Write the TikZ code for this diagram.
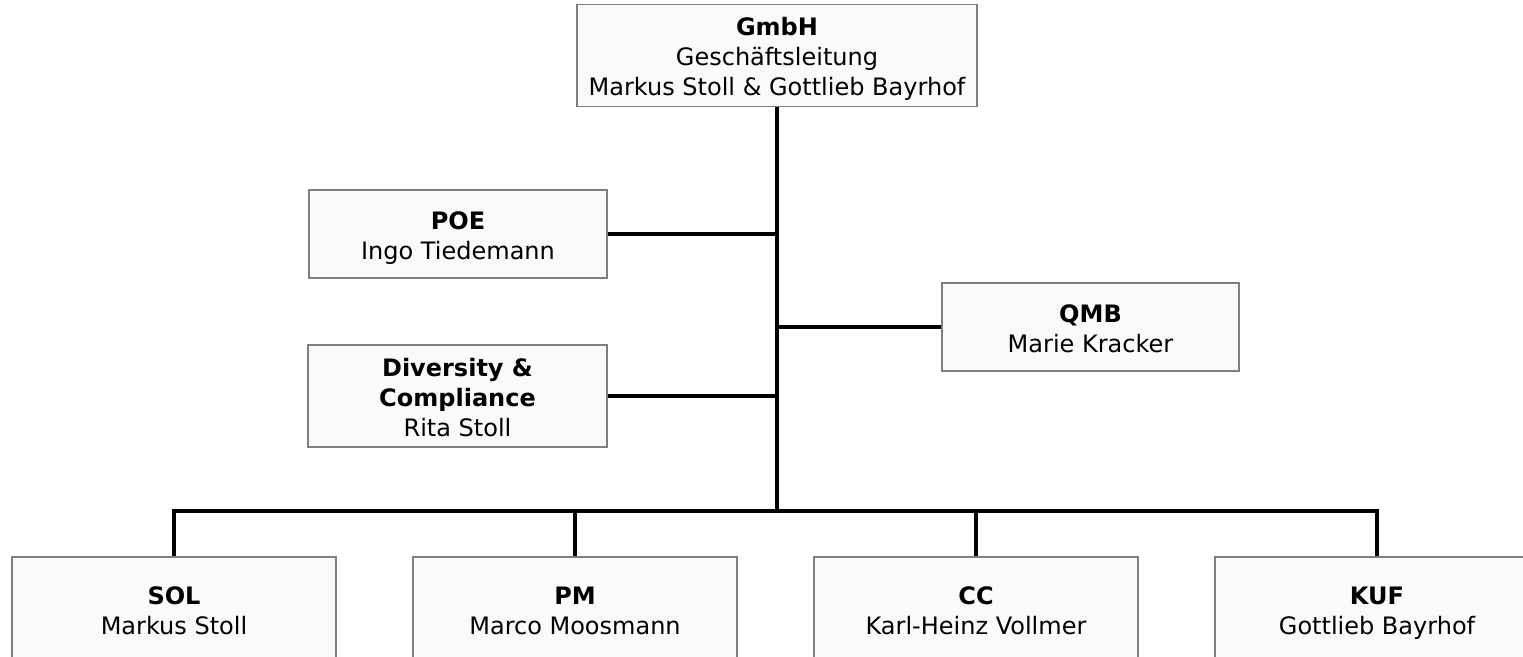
\documentclass[tikz,border=0pt]{standalone}
\usepackage{fontspec}
\setmainfont{DejaVu Sans}
\definecolor{boxfill}{HTML}{FAFAFA}
\definecolor{boxline}{HTML}{7F7F7F}
\newcommand\orgtop{\rule{0pt}{27pt}}
\newcommand\orgbot{\rule[-7pt]{0pt}{7pt}}
\tikzset{
  orgbox/.style={draw=boxline, line width=1.6pt, fill=boxfill, rectangle, inner sep=0pt,
    align=center, font=\fontsize{24}{30}\selectfont, text=black},
  conn/.style={draw=black, line width=3.2pt, line join=miter}
}
\begin{document}
\begin{tikzpicture}[x=1pt,y=-1pt]
\useasboundingbox (0,0) rectangle (1523,656);
\clip (0,0) rectangle (1523,656);
\node[orgbox, minimum width=400pt, minimum height=102pt] (gm) at (777,55.5)
  {\orgtop\textbf{GmbH}\\Geschäftsleitung\\Markus Stoll \& Gottlieb Bayrhof\orgbot};
\node[orgbox, minimum width=298pt, minimum height=88pt] (poe) at (458,234)
  {\orgtop\textbf{POE}\\Ingo Tiedemann\orgbot};
\node[orgbox, minimum width=299pt, minimum height=102pt] (div) at (457.5,396)
  {\orgtop\textbf{Diversity \&}\\\textbf{Compliance}\\Rita Stoll\orgbot};
\node[orgbox, minimum width=297pt, minimum height=88pt] (qmb) at (1090.5,327)
  {\orgtop\textbf{QMB}\\Marie Kracker\orgbot};
\node[orgbox, minimum width=324pt, minimum height=104pt] (sol) at (174,609)
  {\orgtop\textbf{SOL}\\Markus Stoll\orgbot};
\node[orgbox, minimum width=324pt, minimum height=104pt] (pm) at (575,609)
  {\orgtop\textbf{PM}\\Marco Moosmann\orgbot};
\node[orgbox, minimum width=324pt, minimum height=104pt] (cc) at (976,609)
  {\orgtop\textbf{CC}\\Karl-Heinz Vollmer\orgbot};
\node[orgbox, minimum width=324pt, minimum height=104pt] (kuf) at (1377,609)
  {\orgtop\textbf{KUF}\\Gottlieb Bayrhof\orgbot};
\coordinate (bus) at (777,511);
\draw[conn] (gm.south) -- (bus);
\draw[conn] (poe.east) -- (poe.east -| gm.south);
\draw[conn] (div.east) -- (div.east -| gm.south);
\draw[conn] (qmb.west) -- (qmb.west -| gm.south);
\draw[conn] (sol.north) |- (bus) -| (kuf.north);
\draw[conn] (pm.north) -- (pm.north |- bus);
\draw[conn] (cc.north) -- (cc.north |- bus);
\end{tikzpicture}
\end{document}
